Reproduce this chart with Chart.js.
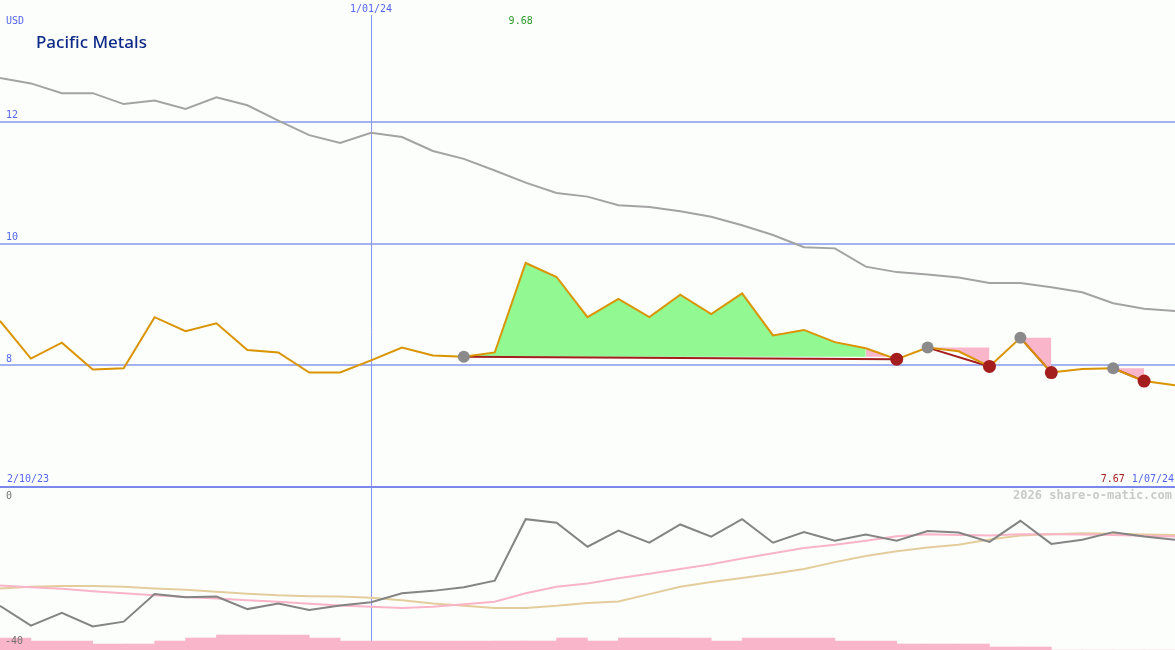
<!DOCTYPE html>
<html>
<head>
<meta charset="utf-8">
<script src="https://cdn.jsdelivr.net/npm/chart.js@4.4.1/dist/chart.umd.min.js"></script>
<style>
  html, body { margin: 0; padding: 0; background: #fcfefc; }
  #wrap { position: relative; width: 1175px; height: 650px; }
</style>
</head>
<body>
<div id="wrap"><canvas id="chart" width="1175" height="650"></canvas></div>
<script>
// ── data (weekly, 9 Oct 2023 .. 1 Jul 2024) ─────────────────────
const price = [8.73, 8.11, 8.37, 7.93, 7.95, 8.79, 8.56, 8.69, 8.25, 8.21,
  7.88, 7.88, 8.08, 8.29, 8.16, 8.14, 8.21, 9.68, 9.45, 8.79,
  9.09, 8.79, 9.16, 8.84, 9.18, 8.49, 8.58, 8.38, 8.28, 8.10,
  8.29, 8.23, 7.98, 8.45, 7.88, 7.94, 7.95, 7.74, 7.67];

const maLong = [12.72, 12.63, 12.47, 12.47, 12.29, 12.35, 12.21, 12.40, 12.27, 12.02,
  11.78, 11.65, 11.82, 11.75, 11.52, 11.39, 11.20, 11.00, 10.83, 10.77,
  10.63, 10.60, 10.53, 10.44, 10.30, 10.14, 9.94, 9.92, 9.62, 9.53,
  9.49, 9.44, 9.35, 9.35, 9.28, 9.20, 9.02, 8.93, 8.89];

// lower panel (0 .. -40)
const osc = [-29.1, -34.0, -30.8, -34.2, -33.0, -26.2, -27.0, -26.8, -29.9, -28.5,
  -30.1, -29.0, -28.2, -26.0, -25.4, -24.5, -22.9, -7.7, -8.6, -14.5,
  -10.5, -13.5, -9.0, -12.0, -7.7, -13.5, -10.9, -13.0, -11.5, -13.0,
  -10.6, -11.0, -13.3, -8.1, -13.8, -12.8, -10.9, -12.0, -12.8];

const oscFast = [-24.1, -24.5, -24.9, -25.5, -26.0, -26.5, -26.9, -27.3, -27.7, -28.1,
  -28.6, -29.0, -29.3, -29.6, -29.3, -28.7, -28.1, -26.0, -24.4, -23.6,
  -22.3, -21.2, -20.0, -18.8, -17.4, -16.1, -14.8, -14.0, -13.0, -11.9,
  -11.4, -11.6, -11.7, -11.4, -11.4, -11.5, -11.6, -11.8, -12.0];

const oscSlow = [-24.8, -24.4, -24.2, -24.2, -24.4, -24.8, -25.1, -25.6, -26.1, -26.5,
  -26.7, -26.8, -27.1, -27.7, -28.5, -29.1, -29.6, -29.6, -29.1, -28.4,
  -28.0, -26.2, -24.4, -23.2, -22.2, -21.2, -20.0, -18.3, -16.8, -15.6,
  -14.7, -14.0, -12.7, -11.7, -11.4, -11.2, -11.3, -11.5, -11.6];

// volume level per week interval
const volume = [4, 3, 3, 2, 2, 3, 4, 5, 5, 5, 4, 3, 3, 3, 3, 3, 3, 3, 4, 3,
  4, 4, 4, 3, 4, 4, 4, 3, 3, 2, 2, 2, 1, 1, 0, 0, 0, 0];

// trades: buy / sell week index
const buyIdx  = [15, 30, 33, 36];
const sellIdx = [29, 32, 34, 37];

const gridLevels = [8, 10, 12];
const lowerLabels = ['0', '-40'];
const startLabel = '2/10/23';
const endLabel = '1/07/24';
const yearIdx = 12;
const yearLabel = '1/01/24';
const title = 'Pacific Metals';

// ── layout ──────────────────────────────────────────────────────
const H = 650;
const UP_H = 487, UP_MIN = 6, UP_MAX = 14;
const LOW_TOP = 488, LOW_MIN = -40, LOW_MAX = 0;
const VOL_PX = 3;

const upPx = UP_H / (UP_MAX - UP_MIN);
const lowPx = (H - LOW_TOP) / (LOW_MAX - LOW_MIN);

const N = price.length;
const pts = arr => arr.map((v, i) => ({ x: i, y: v }));

const GREEN = '#92f892', PINK = '#f9b6ca';

// ── datasets (first in list = drawn on top) ─────────────────────
const datasets = [];

datasets.push({
  label: 'sell', data: sellIdx.map(i => ({ x: i, y: price[i] })), yAxisID: 'y',
  showLine: false, pointRadius: 6.5, pointBackgroundColor: '#a41e1e', pointBorderWidth: 0,
});
datasets.push({
  label: 'buy', data: buyIdx.map(i => ({ x: i, y: price[i] })), yAxisID: 'y',
  showLine: false, pointRadius: 6, pointBackgroundColor: '#8a8a8a', pointBorderWidth: 0,
});
datasets.push({
  label: 'price', data: pts(price), yAxisID: 'y',
  borderColor: '#d99400', borderWidth: 2, pointRadius: 0, tension: 0,
});

buyIdx.forEach((b, t) => {
  const s = sellIdx[t];
  datasets.push({
    label: 'trade', data: [{ x: b, y: price[b] }, { x: s, y: price[s] }], yAxisID: 'y',
    borderColor: '#a41e1e', borderWidth: 2, pointRadius: 0,
  });
});

// shaded areas: each week segment is green if it closes above the buy price, pink otherwise
buyIdx.forEach((b, t) => {
  const s = sellIdx[t], lvl = price[b];
  let start = b, col = null;
  for (let j = b; j < s; j++) {
    const c = price[j + 1] >= lvl ? GREEN : PINK;
    if (col && c !== col) {
      datasets.push(mkFill(start, j, lvl, col));
      start = j;
    }
    col = c;
  }
  datasets.push(mkFill(start, s, lvl, col));
});

function mkFill(a, b, lvl, col) {
  const d = [];
  for (let i = a; i <= b; i++) d.push({ x: i, y: price[i] });
  return {
    label: 'area', data: d, yAxisID: 'y', fill: { value: lvl },
    backgroundColor: col, borderColor: 'transparent', borderWidth: 0, pointRadius: 0,
  };
}

datasets.push({
  label: 'ma', data: pts(maLong), yAxisID: 'y',
  borderColor: '#a3a3a3', borderWidth: 2, pointRadius: 0,
});
datasets.push({
  label: 'osc', data: pts(osc), yAxisID: 'y2',
  borderColor: '#848484', borderWidth: 2, pointRadius: 0,
});
datasets.push({
  label: 'fast', data: pts(oscFast), yAxisID: 'y2',
  borderColor: '#f9b4c8', borderWidth: 2, pointRadius: 0,
});
datasets.push({
  label: 'slow', data: pts(oscSlow), yAxisID: 'y2',
  borderColor: '#e4cd9c', borderWidth: 2, pointRadius: 0,
});
datasets.push({
  type: 'bar', label: 'vol', yAxisID: 'yv',
  data: volume.map((v, i) => ({ x: i + 0.5, y: v })),
  backgroundColor: '#f9b6ca', borderWidth: 0,
  barPercentage: 1, categoryPercentage: 1,
});

// ── decorations ─────────────────────────────────────────────────
const MONO = '10px "DejaVu Sans Mono", monospace';
const BLUE = '#5566ee';

const decor = {
  id: 'decor',
  beforeDraw(chart) {
    const { ctx, width, height } = chart;
    ctx.save();
    ctx.fillStyle = '#fcfefc';
    ctx.fillRect(0, 0, width, height);
    ctx.restore();
  },
  beforeDatasetsDraw(chart) {
    const { ctx, width, height, scales: { x, y } } = chart;
    const hline = (py, col, w) => {
      ctx.strokeStyle = col; ctx.lineWidth = w;
      ctx.beginPath(); ctx.moveTo(0, py); ctx.lineTo(width, py); ctx.stroke();
    };
    ctx.save();
    gridLevels.forEach(v => hline(Math.round(y.getPixelForValue(v)), '#a4b2f2', 2));
    const vx = Math.round(x.getPixelForValue(yearIdx)) + 0.5;
    ctx.strokeStyle = '#8898f8'; ctx.lineWidth = 1;
    ctx.beginPath(); ctx.moveTo(vx, 15); ctx.lineTo(vx, height); ctx.stroke();
    hline(Math.round(y.getPixelForValue(UP_MIN)), '#7a88ee', 2);
    ctx.restore();
  },
  afterDraw(chart) {
    const { ctx, width, scales: { x, y, y2 } } = chart;
    ctx.save();
    ctx.textBaseline = 'middle';
    ctx.font = MONO;
    ctx.fillStyle = BLUE;
    ctx.textAlign = 'left';
    ctx.fillText('USD', 6, 21);
    gridLevels.forEach(v => ctx.fillText(String(v), 6, y.getPixelForValue(v) - 6));
    ctx.fillText(startLabel, 7, y.getPixelForValue(UP_MIN) - 8);
    ctx.textAlign = 'center';
    ctx.fillText(yearLabel, x.getPixelForValue(yearIdx), 9);

    // period high
    let hi = 0;
    price.forEach((v, i) => { if (v > price[hi]) hi = i; });
    ctx.fillStyle = '#2a9a2a';
    ctx.fillText(price[hi].toFixed(2), x.getPixelForValue(hi) - 5, 21);

    // last close + end date
    ctx.textAlign = 'right';
    const by = y.getPixelForValue(UP_MIN) - 8;
    ctx.fillStyle = BLUE;
    ctx.fillText(endLabel, width - 1, by);
    const dw = ctx.measureText(endLabel).width;
    ctx.fillStyle = '#a41e1e';
    ctx.fillText(price[N - 1].toFixed(2), width - dw - 8, by);

    ctx.font = 'bold 12px "DejaVu Sans Mono", monospace';
    ctx.fillStyle = '#c9c9c9';
    ctx.fillText('2026 share-o-matic.com', width - 3, 496);

    ctx.textAlign = 'left';
    ctx.font = MONO;
    ctx.fillStyle = '#707070';
    ctx.fillText(lowerLabels[0], 6, y2.getPixelForValue(LOW_MAX) + 8);
    ctx.fillText(lowerLabels[1], 5, y2.getPixelForValue(LOW_MIN) - 9);

    ctx.font = '500 17px "Noto Sans", sans-serif';
    ctx.fillStyle = '#0c2a86';
    ctx.fillText(title, 36, 43);
    ctx.restore();
  },
};

new Chart(document.getElementById('chart'), {
  type: 'line',
  data: { datasets },
  options: {
    responsive: false,
    animation: false,
    events: [],
    layout: { padding: 0, autoPadding: false },
    plugins: { legend: { display: false }, tooltip: { enabled: false } },
    scales: {
      x: { type: 'linear', min: 0, max: N - 1, offset: false, display: false, ticks: { stepSize: 1 } },
      y: { type: 'linear', min: UP_MAX - H / upPx, max: UP_MAX, display: false },
      y2: { type: 'linear', min: LOW_MIN, max: LOW_MAX + LOW_TOP / lowPx, display: false },
      yv: { type: 'linear', min: 0, max: H / VOL_PX, display: false },
    },
  },
  plugins: [decor],
});
</script>
</body>
</html>
